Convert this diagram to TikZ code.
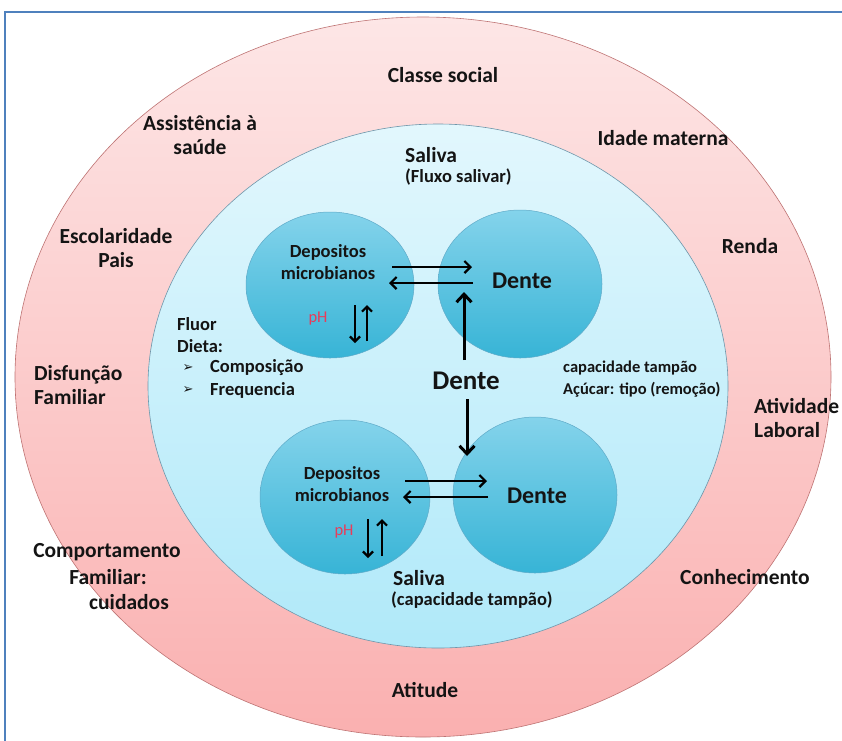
\documentclass[tikz,border=0pt]{standalone}
\usepackage{fontspec}
\setmainfont{Carlito}
\newfontfamily\symfont{DejaVu Sans}
\usetikzlibrary{shapes.geometric,arrows.meta,calc}
\definecolor{framecol}{RGB}{79,129,189}
\definecolor{pinktop}{RGB}{253,230,230}
\definecolor{pinkbot}{RGB}{250,176,176}
\definecolor{pinkline}{RGB}{190,115,115}
\definecolor{cyantop}{RGB}{226,247,253}
\definecolor{cyanbot}{RGB}{176,233,249}
\definecolor{cyanline}{RGB}{110,150,170}
\definecolor{bubtop}{RGB}{132,211,235}
\definecolor{bubbot}{RGB}{55,180,214}
\definecolor{bubline}{RGB}{95,170,200}
\definecolor{phred}{RGB}{232,60,90}
\definecolor{txt}{RGB}{20,20,20}
\begin{document}
\begin{tikzpicture}[x=1pt,y=-1pt,
  big/.style={font=\fontsize{21.5}{24.5}\selectfont\bfseries, text=txt, inner sep=0pt},
  mid/.style={font=\fontsize{18.5}{21.5}\selectfont\bfseries, text=txt, inner sep=0pt},
  small/.style={font=\fontsize{16.5}{22}\selectfont\bfseries, text=txt, inner sep=0pt},
  dentebub/.style={font=\fontsize{24}{26}\selectfont\bfseries, text=txt, inner sep=0pt},
  bubble/.style={ellipse, draw=bubline, line width=0.5pt, top color=bubtop, bottom color=bubbot, inner sep=0pt},
  arr/.style={line width=2.2pt, -{Straight Barb[length=6pt,width=12pt]}},
  varr/.style={line width=3pt, -{Straight Barb[length=8pt,width=15pt]}},
  pharr/.style={line width=2.2pt, -{Straight Barb[length=5pt,width=10pt]}}
]
\useasboundingbox (0,0) rectangle (842,740);
\fill[white] (0,0) rectangle (842,740);
\draw[framecol, line width=2pt] (5,12) rectangle (860,760);

% rings
\node[ellipse, draw=pinkline, line width=0.6pt, top color=pinktop, bottom color=pinkbot,
      minimum width=816pt, minimum height=720pt, inner sep=0pt] (outer) at (423,377) {};
\node[ellipse, draw=cyanline, line width=0.6pt, top color=cyantop, bottom color=cyanbot,
      minimum width=580pt, minimum height=524pt, inner sep=0pt] (inner) at (438,386) {};

% bubbles
\node[bubble, minimum width=168pt, minimum height=146pt] (b1) at (330,285) {};
\node[bubble, minimum width=164pt, minimum height=148pt] (b2) at (520,284) {};
\node[bubble, minimum width=170pt, minimum height=154pt] (b3) at (345,497) {};
\node[bubble, minimum width=164pt, minimum height=156pt] (b4) at (535,495) {};

% outer labels
\node[big] (classe) at (443,75) {Classe social};
\node[big, align=center] (assist) at (200,135) {Assistência à\\saúde};
\node[big] (idade) at (663,138) {Idade materna};
\node[big, align=center] (escol) at (116,248) {Escolaridade\\Pais};
\node[big] (renda) at (750,246) {Renda};
\node[big, align=left, anchor=west] (disf) at (34,385) {Disfunção\\Familiar};
\node[big, align=left, anchor=west] (ativ) at (754,418) {Atividade\\Laboral};
\node[big] (comp1) at (107,552) {Comportamento};
\node[big] (comp2) at (108,577) {Familiar:};
\node[big] (comp3) at (129,602) {cuidados};
\node[big] (conhec) at (745,577) {Conhecimento};
\node[big] (atit) at (425,690) {Atitude};

% inner labels
\node[big, anchor=west] (sal1) at (405,155) {Saliva};
\node[mid, anchor=west] (sal1b) at (405,177) {(Fluxo salivar)};
\node[mid, align=left, anchor=west] (fluor) at (177,335) {Fluor\\Dieta:};
\node[mid, anchor=west] (compo) at (210,368) {Composição};
\node[mid, anchor=west] (freq) at (210,390) {Frequencia};
\node[font=\symfont\fontsize{13}{14}\selectfont, text=txt, inner sep=0pt] (bul1) at (188,368) {➢};
\node[font=\symfont\fontsize{13}{14}\selectfont, text=txt, inner sep=0pt] (bul2) at (188,390) {➢};
\node[small, align=left, anchor=west] (captamp) at (563,379) {capacidade tampão\\Açúcar: tipo (remoção)};
\node[big, anchor=west] (sal2) at (393,578) {Saliva};
\node[mid, anchor=west] (sal2b) at (391,600) {(capacidade tampão)};

% bubble texts
\node[mid, align=center] (dep1) at (328,262) {Depositos\\microbianos};
\node[dentebub] (den1) at (522,281) {Dente};
\node[mid, align=center] (dep2) at (342,484) {Depositos\\microbianos};
\node[dentebub] (den2) at (537,496) {Dente};
\node[font=\fontsize{16.5}{18}\selectfont, text=phred, inner sep=0pt] (ph1) at (318,319) {pH};
\node[font=\fontsize{16.5}{18}\selectfont, text=phred, inner sep=0pt] (ph2) at (344,532) {pH};
\node[font=\fontsize{27}{30}\selectfont\bfseries, text=txt, inner sep=0pt] (denc) at (466,381) {Dente};

% arrows top pair
\coordinate (t1a) at (392,267); \coordinate (t1b) at (472,267);
\coordinate (t2a) at (473,283); \coordinate (t2b) at (389,283);
\draw[arr] (t1a) -- (t1b);
\draw[arr] (t2a) -- (t2b);
% arrows bottom pair
\coordinate (u1a) at (405,481); \coordinate (u1b) at (487,481);
\coordinate (u2a) at (488,497); \coordinate (u2b) at (403,497);
\draw[arr] (u1a) -- (u1b);
\draw[arr] (u2a) -- (u2b);
% pH arrows
\coordinate (p1a) at (355,305); \coordinate (p1b) at (355,343);
\coordinate (p2a) at (367,341); \coordinate (p2b) at (367,305);
\draw[pharr] (p1a) -- (p1b);
\draw[pharr] (p2a) -- (p2b);
\coordinate (p3a) at (368,519); \coordinate (p3b) at (368,558);
\coordinate (p4a) at (382,556); \coordinate (p4b) at (382,519);
\draw[pharr] (p3a) -- (p3b);
\draw[pharr] (p4a) -- (p4b);
% central vertical arrows
\coordinate (vup) at (464,292);
\coordinate (vdn) at (467,456);
\coordinate (vupS) at (464,360);
\coordinate (vdnS) at (467,399);
\draw[varr] (vupS) -- (vup);
\draw[varr] (vdnS) -- (vdn);
\end{tikzpicture}
\end{document}
